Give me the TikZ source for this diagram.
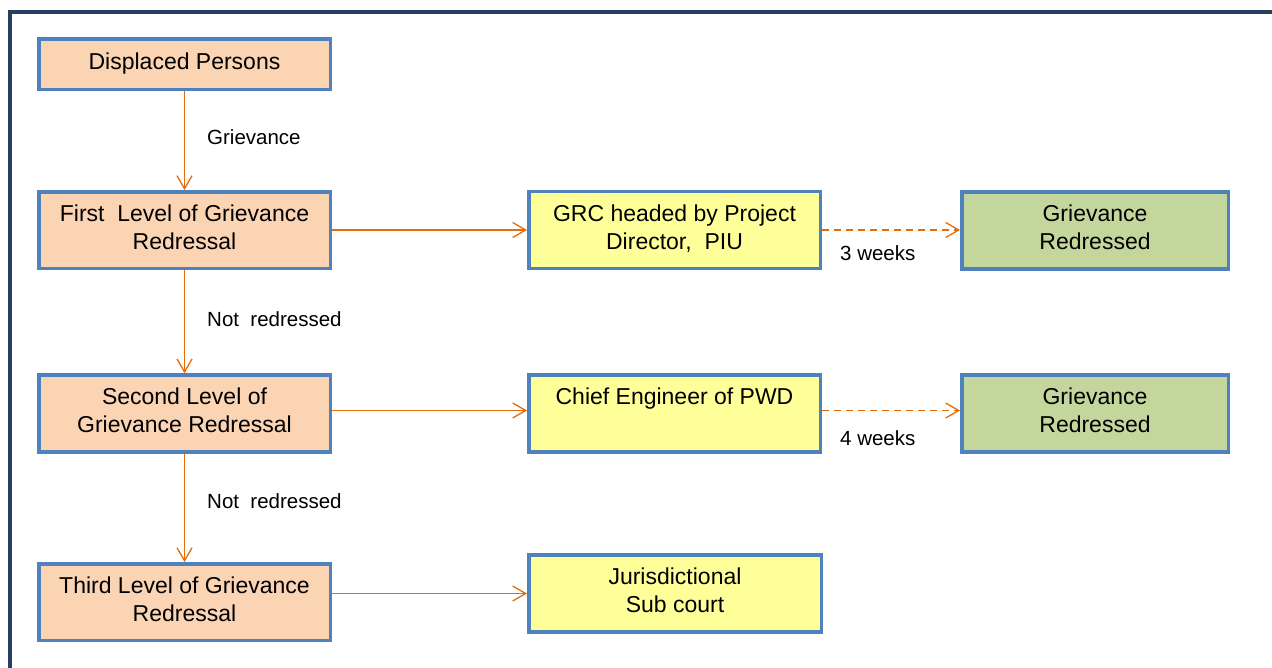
\documentclass[tikz,border=0pt]{standalone}
\usepackage{fontspec}
\setmainfont{Liberation Sans}
\usetikzlibrary{arrows.meta,calc}
\definecolor{peach}{HTML}{FBD4B4}
\definecolor{paleyellow}{HTML}{FFFF99}
\definecolor{palegreen}{HTML}{C3D69B}
\definecolor{boxblue}{HTML}{4F81BD}
\definecolor{arrorange}{HTML}{E46C0A}
\definecolor{framenavy}{HTML}{243F60}
\tikzset{
  box/.style={draw=boxblue, line width=3.5pt, inner sep=0pt, align=center,
    font=\fontsize{23}{28}\selectfont, text depth=6pt},
  lvlbox/.style={box, fill=peach, minimum width=291.5pt, minimum height=76.5pt},
  midbox/.style={box, fill=paleyellow, minimum width=291.5pt, minimum height=77pt},
  endbox/.style={box, fill=palegreen, minimum width=266.5pt, minimum height=77pt},
  conn/.style={draw=arrorange, line width=1.3pt, -{Straight Barb[length=13pt,width=15pt,line width=1.3pt]}},
  dconn/.style={conn, dash pattern=on 7pt off 5pt},
  lbl/.style={font=\fontsize{20.5}{24}\selectfont, inner sep=0pt, anchor=west}
}
\begin{document}
\begin{tikzpicture}[x=1pt,y=-1pt]
\useasboundingbox (0,0) rectangle (1272,667);
\begin{scope}
\clip (0,0) rectangle (1272,667);
\draw[framenavy, line width=4.5pt] (10,12) rectangle (1300,700);
\end{scope}
% left column
\node[lvlbox, minimum height=50.5pt, text depth=5pt] (dp) at (184.5,64) {Displaced Persons};
\node[lvlbox] (l1) at (184.5,230) {First\ \ Level of Grievance\\Redressal};
\node[lvlbox, minimum height=77pt] (l2) at (184.5,413.5) {Second Level of\\Grievance Redressal};
\node[lvlbox] (l3) at (184.5,602) {Third Level of Grievance\\Redressal};
% middle column
\node[midbox] (grc) at (674.5,230) {GRC headed by Project\\Director,\ \ PIU};
\node[midbox] (ce) at (674.5,413.5) {Chief Engineer of PWD\\\mbox{}};
\node[midbox, minimum width=292.5pt] (jur) at (675,593.5) {Jurisdictional\\Sub court};
% right column
\node[endbox] (gr1) at (1095,230.5) {Grievance\\Redressed};
\node[endbox] (gr2) at (1095,413.5) {Grievance\\Redressed};
% vertical connectors
\draw[conn] (dp.south) -- (l1.north);
\draw[conn] (l1.south) -- (l2.north);
\draw[conn] (l2.south) -- (l3.north);
% horizontal connectors
\draw[conn] (l1.east) -- (grc.west);
\draw[conn] ([yshift=3pt]l2.east) -- ([yshift=3pt]ce.west);
\draw[conn] (l3.east |- jur.west) -- (jur.west);
\draw[dconn] (grc.east) -- (gr1.west |- grc.east);
\draw[dconn] ([yshift=3pt]ce.east) -- ([yshift=3pt]gr2.west);
% labels
\node[lbl] (lg) at (207,137) {Grievance};
\node[lbl] (ln1) at (207,319) {Not\ \ redressed};
\node[lbl] (ln2) at (207,501) {Not\ \ redressed};
\node[lbl] (lw3) at (840,253) {3 weeks};
\node[lbl] (lw4) at (840,438) {4 weeks};
\end{tikzpicture}
\end{document}
